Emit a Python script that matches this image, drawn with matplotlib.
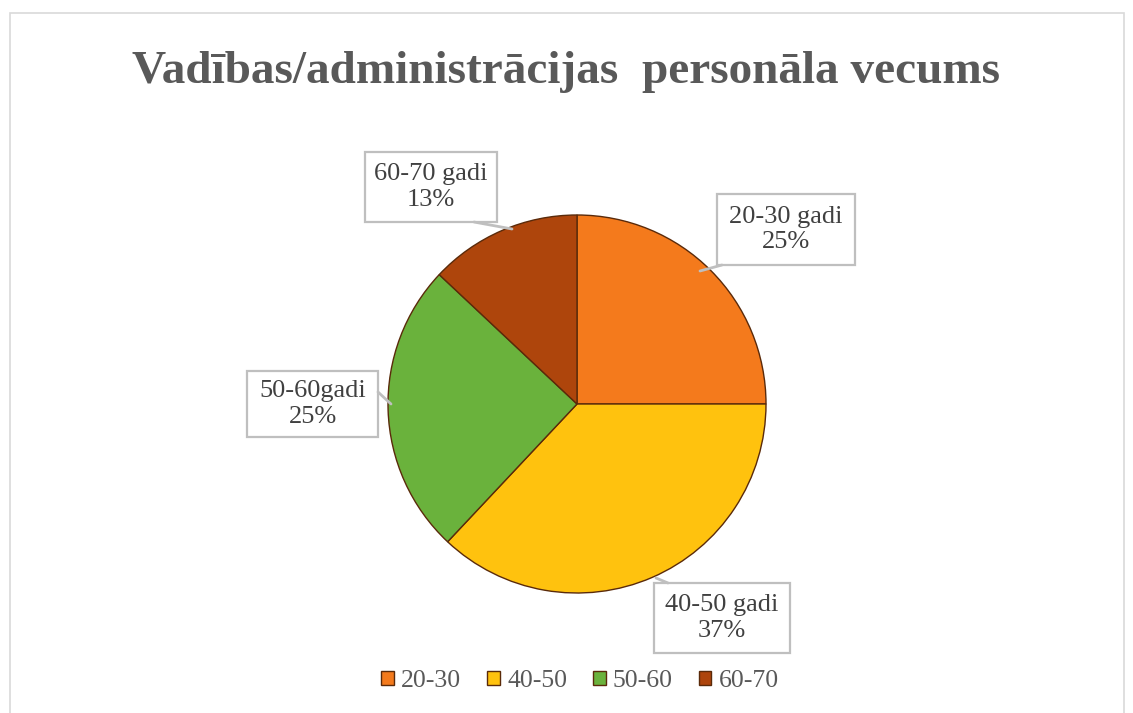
import matplotlib
matplotlib.use("Agg")
import matplotlib.pyplot as plt
from matplotlib.patches import Rectangle

plt.rcParams['font.family'] = ['Liberation Serif', 'DejaVu Serif']

categories = ['20-30', '40-50', '50-60', '60-70']
labels = ['20-30 gadi', '40-50 gadi', '50-60gadi', '60-70 gadi']
shares = [25, 37, 25, 13]
colors = ['#F47A1C', '#FFC20E', '#6AB23C', '#AE450C']

W, H = 1133, 713
fig = plt.figure(figsize=(W / 100, H / 100), dpi=100)
ax = fig.add_axes([0, 0, 1, 1])

# outer chart frame
ax.add_patch(Rectangle((10, -5), 1114, 705, fill=False, edgecolor='#D9D9D9', lw=1.2))

cx, cy, r = 577, H - 404, 189
wedges, _ = ax.pie(shares, colors=colors, startangle=90, counterclock=False,
                   center=(cx, cy), radius=r, frame=True,
                   wedgeprops=dict(edgecolor='#5A2A0A', linewidth=1.0))
ax.set_xlim(0, W)
ax.set_ylim(0, H)
ax.set_aspect('equal')
ax.axis('off')

ax.text(W / 2, H - 72, 'Vadības/administrācijas  personāla vecums', ha='center', va='center',
        fontsize=34, fontweight='bold', color='#595959')

# callout boxes: (left, top, width, height) in pixels from top, leader start, leader end
boxes = [
    ((717, 194, 138, 71), (722, 265), (700, 271)),
    ((654, 583, 136, 70), (668, 583), (656, 578)),
    ((247, 371, 131, 66), (378, 392), (391, 404)),
    ((365, 152, 132, 70), (474, 222), (512, 229)),
]
for lab, pct, box in zip(labels, shares, boxes):
    (bl, bt, bw, bh), (sx, sy), (ex, ey) = box
    ax.plot([sx, ex], [H - sy, H - ey], color='#BFBFBF', lw=2.0, solid_capstyle='round')
    ax.add_patch(Rectangle((bl, H - bt - bh), bw, bh, fc='white', ec='#BFBFBF', lw=1.6))
    ax.text(bl + bw / 2, H - bt - bh / 2, f'{lab}\n{pct}%', ha='center', va='center',
            fontsize=19, color='#404040', linespacing=1.2)

leg = ax.legend(wedges, categories, loc='center', bbox_to_anchor=(580 / W, 1 - 681 / H),
                ncol=4, frameon=False, fontsize=18.5, handlelength=0.5, handleheight=0.5,
                handletextpad=0.28, columnspacing=1.0, labelcolor='#595959')

fig.savefig('out.png', dpi=100)
